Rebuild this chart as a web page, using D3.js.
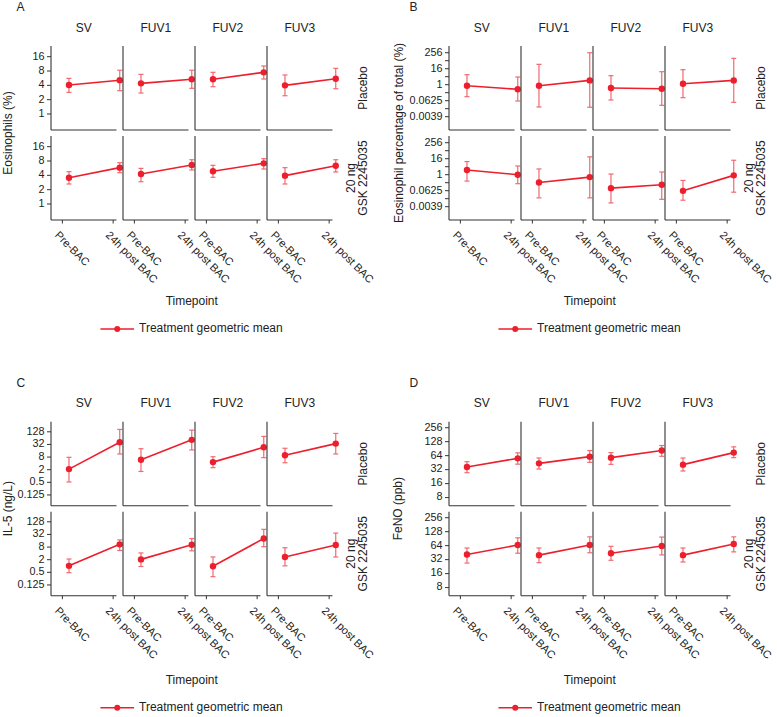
<!DOCTYPE html>
<html><head><meta charset="utf-8">
<script src="https://cdn.jsdelivr.net/npm/d3@7"></script>
<style>
body{margin:0;background:#fff;}
svg text{font-family:"Liberation Sans",Arial,Helvetica,sans-serif;}
</style></head>
<body><svg id="chart" width="777" height="717"></svg>
<script>
// ---------- categories ----------
const visits = ["SV", "FUV1", "FUV2", "FUV3"];
const timepoints = ["Pre-BAC", "24h post BAC"];
const treatments = [["Placebo"], ["20 ng", "GSK 2245035"]];
const legendLabel = "Treatment geometric mean";
const xTitle = "Timepoint";

// ---------- A: Eosinophils (%) ----------  [visit][pre, post]
const eosPlaceboMean = [[4.06, 5.1], [4.4, 5.35], [5.35, 7.5], [4.0, 5.5]];
const eosPlaceboLo   = [[2.85, 3.09], [2.76, 3.46], [3.75, 5.43], [2.42, 3.4]];
const eosPlaceboHi   = [[5.6, 8.3], [6.8, 8.3], [7.5, 10.2], [6.6, 9.1]];
const eosActiveMean  = [[3.57, 5.8], [4.27, 6.6], [4.86, 7.15], [3.94, 6.37]];
const eosActiveLo    = [[2.63, 4.55], [2.94, 5.18], [3.64, 5.43], [2.63, 4.7]];
const eosActiveHi    = [[4.77, 7.37], [5.6, 8.5], [6.5, 8.95], [5.8, 8.5]];
const eosTicks = [1, 2, 4, 8, 16];
const eosTickLabels = ["1", "2", "4", "8", "16"];

// ---------- B: Eosinophil percentage of total (%) ----------
const spPlaceboMean = [[0.84, 0.45], [0.84, 2.1], [0.56, 0.5], [1.19, 2.1]];
const spPlaceboLo   = [[0.125, 0.059], [0.021, 0.02], [0.07, 0.028], [0.105, 0.047]];
const spPlaceboHi   = [[5.66, 3.8], [34, 256], [4.76, 9.5], [13.5, 96]];
const spActiveMean  = [[2.26, 1.0], [0.26, 0.66], [0.097, 0.174], [0.061, 0.89]];
const spActiveLo    = [[0.33, 0.21], [0.018, 0.018], [0.0075, 0.014], [0.012, 0.048]];
const spActiveHi    = [[9.7, 4.5], [2.7, 22], [1.12, 1.6], [0.37, 12.2]];
const spTicks = [0.00390625, 0.0625, 1, 16, 256];
const spTickLabels = ["0.0039", "0.0625", "1", "16", "256"];
const spMinorTicks = [0.015625, 0.25, 4, 64];

// ---------- C: IL-5 (ng/L) ----------
const il5PlaceboMean = [[2.14, 40.8], [6.0, 53], [4.6, 23.4], [9.7, 35]];
const il5PlaceboLo   = [[0.52, 11.2], [1.65, 17.5], [2.5, 7.5], [4.3, 11.2]];
const il5PlaceboHi   = [[7.8, 166], [20, 154], [8.3, 77], [21, 107]];
const il5ActiveMean  = [[1.02, 10.8], [2.07, 10.4], [0.98, 20.4], [2.7, 10.0]];
const il5ActiveLo    = [[0.48, 5.5], [0.95, 5.3], [0.31, 8.3], [1.02, 2.7]];
const il5ActiveHi    = [[2.16, 17.6], [4.2, 20.4], [2.7, 56], [7.4, 37]];
const il5Ticks = [0.125, 0.5, 2, 8, 32, 128];
const il5TickLabels = ["0.125", "0.5", "2", "8", "32", "128"];

// ---------- D: FeNO (ppb) ----------
const fenoPlaceboMean = [[36.5, 56], [43.7, 61], [58, 82.5], [41, 74.5]];
const fenoPlaceboLo   = [[27.5, 42], [33, 46], [41.6, 62], [29.9, 58]];
const fenoPlaceboHi   = [[47.5, 73.5], [57, 82.5], [74.5, 106], [57, 99]];
const fenoActiveMean  = [[41.3, 66], [40, 66], [44, 63], [40, 69.6]];
const fenoActiveLo    = [[27, 44], [27.5, 45], [31, 40.5], [28.5, 47]];
const fenoActiveHi    = [[57, 94.5], [57, 99], [62, 98], [57, 99]];
const fenoTicks = [8, 16, 32, 64, 128, 256];
const fenoTickLabels = ["8", "16", "32", "64", "128", "256"];

// ---------- panels config (layout/styling) ----------
const panels = [
  {letter: "A", title: "Eosinophils (%)", ox: 0, oy: 0, titleX: 8.5, yLog2: [-1.117, 4.745],
   ticks: eosTicks, labels: eosTickLabels, minor: [],
   rows: [[eosPlaceboMean, eosPlaceboLo, eosPlaceboHi], [eosActiveMean, eosActiveLo, eosActiveHi]]},
  {letter: "B", title: "Eosinophil percentage of total (%)", ox: 398, oy: 0, titleX: 400, yLog2: [-11.33, 9.675],
   ticks: spTicks, labels: spTickLabels, minor: spMinorTicks,
   rows: [[spPlaceboMean, spPlaceboLo, spPlaceboHi], [spActiveMean, spActiveLo, spActiveHi]]},
  {letter: "C", title: "IL-5 (ng/L)", ox: 0, oy: 375.7, titleX: 8.5, yLog2: [-4.7, 8.6],
   ticks: il5Ticks, labels: il5TickLabels, minor: [],
   rows: [[il5PlaceboMean, il5PlaceboLo, il5PlaceboHi], [il5ActiveMean, il5ActiveLo, il5ActiveHi]]},
  {letter: "D", title: "FeNO (ppb)", ox: 398, oy: 375.7, titleX: 398.5, yLog2: [2.42, 8.43],
   ticks: fenoTicks, labels: fenoTickLabels, minor: [],
   rows: [[fenoPlaceboMean, fenoPlaceboLo, fenoPlaceboHi], [fenoActiveMean, fenoActiveLo, fenoActiveHi]]}
];

const RED = "#ee1f2d";
const ERR = "#f0505a";
const AXIS = "#333333";
const TXT = "#222222";

const svg = d3.select("#chart");

const PANEL_LEFT = 51, PANEL_W = 65.5, PANEL_STEP = 72;
const ROWS = [[46, 130], [136, 220]];
const DODGE = 0.13;

panels.forEach(p => {
  const g = svg.append("g").attr("transform", `translate(${p.ox},${p.oy})`);
  const below = p.oy > 0 ? 3 : 0;

  // letter
  g.append("text").attr("x", 16.5 + (p.ox > 0 ? -5 : 0)).attr("y", 11).attr("font-size", 12).attr("fill", TXT).text(p.letter);

  const plotCenter = PANEL_LEFT + (3 * PANEL_STEP + PANEL_W) / 2;

  // y title
  svg.append("text")
    .attr("transform", `translate(${p.titleX},${p.oy + (ROWS[0][0] + ROWS[1][1]) / 2}) rotate(-90)`)
    .attr("text-anchor", "middle").attr("dominant-baseline", "middle")
    .attr("font-size", 12).attr("fill", TXT).text(p.title);

  visits.forEach((v, vi) => {
    const left = PANEL_LEFT + vi * PANEL_STEP;
    const x = d3.scaleLinear().domain([0.776, 2.066]).range([left, left + PANEL_W]);

    // strip title
    g.append("text").attr("x", left + PANEL_W / 2).attr("y", 28.5)
      .attr("text-anchor", "middle").attr("dominant-baseline", "middle")
      .attr("font-size", 12).attr("fill", TXT).text(v);

    ROWS.forEach((r, ri) => {
      const y = d3.scaleLog().base(2)
        .domain([Math.pow(2, p.yLog2[0]), Math.pow(2, p.yLog2[1])])
        .range([r[1], r[0]]);

      // left axis
      g.append("line").attr("x1", left).attr("x2", left).attr("y1", r[0]).attr("y2", r[1])
        .attr("stroke", AXIS).attr("stroke-width", 1.1);
      // bottom axis
      g.append("line").attr("x1", left).attr("x2", left + PANEL_W).attr("y1", r[1]).attr("y2", r[1])
        .attr("stroke", AXIS).attr("stroke-width", 1.1);

      if (vi === 0) {
        p.ticks.forEach((t, ti) => {
          g.append("line").attr("x1", left - 4).attr("x2", left).attr("y1", y(t)).attr("y2", y(t))
            .attr("stroke", AXIS).attr("stroke-width", 1);
          g.append("text").attr("x", left - 6.5).attr("y", y(t))
            .attr("text-anchor", "end").attr("dominant-baseline", "middle")
            .attr("font-size", 10.8).attr("fill", TXT).text(p.labels[ti]);
        });
        p.minor.forEach(t => {
          g.append("line").attr("x1", left - 4).attr("x2", left).attr("y1", y(t)).attr("y2", y(t))
            .attr("stroke", AXIS).attr("stroke-width", 1);
        });
      }

      if (ri === 1) {
        timepoints.forEach((tp, ti) => {
          const tx = x(ti + 1);
          g.append("line").attr("x1", tx).attr("x2", tx).attr("y1", r[1]).attr("y2", r[1] + 3.5)
            .attr("stroke", AXIS).attr("stroke-width", 1);
          g.append("text")
            .attr("transform", `translate(${tx - 6},${r[1] + 13.8}) rotate(45)`)
            .attr("dominant-baseline", "middle")
            .attr("font-size", 11).attr("fill", TXT).text(tp);
        });
      }

      // data
      const [mean, lo, hi] = p.rows[ri];
      const pts = timepoints.map((tp, ti) => ({
        x: x(ti + 1 + DODGE), m: mean[vi][ti], lo: lo[vi][ti], hi: hi[vi][ti]
      }));
      g.append("path").datum(pts)
        .attr("d", d3.line().x(d => d.x).y(d => y(d.m)))
        .attr("fill", "none").attr("stroke", RED).attr("stroke-width", 1.6);
      pts.forEach(d => {
        const eg = g.append("g").attr("stroke", ERR).attr("stroke-width", 1.2).attr("opacity", 0.85);
        eg.append("line").attr("x1", d.x).attr("x2", d.x).attr("y1", y(d.lo)).attr("y2", y(d.hi));
        eg.append("line").attr("x1", d.x - 2.5).attr("x2", d.x + 2.5).attr("y1", y(d.lo)).attr("y2", y(d.lo));
        eg.append("line").attr("x1", d.x - 2.5).attr("x2", d.x + 2.5).attr("y1", y(d.hi)).attr("y2", y(d.hi));
        g.append("circle").attr("cx", d.x).attr("cy", y(d.m)).attr("r", 3.2).attr("fill", RED);
      });
    });
  });

  // row strips
  ROWS.forEach((r, ri) => {
    const lines = treatments[ri];
    const cy = (r[0] + r[1]) / 2;
    lines.forEach((ln, li) => {
      const cx = 364 - (lines.length - 1 - li) * 12.5;
      g.append("text").attr("transform", `translate(${cx},${cy}) rotate(-90)`)
        .attr("text-anchor", "middle").attr("dominant-baseline", "middle")
        .attr("font-size", 12).attr("fill", TXT).text(ln);
    });
  });

  // x title
  g.append("text").attr("x", plotCenter).attr("y", 302 + below)
    .attr("text-anchor", "middle").attr("dominant-baseline", "middle")
    .attr("font-size", 12).attr("fill", TXT).text(xTitle);

  // legend
  const ly = 329 + below;
  g.append("line").attr("x1", plotCenter - 91.3).attr("x2", plotCenter - 57.7).attr("y1", ly).attr("y2", ly)
    .attr("stroke", RED).attr("stroke-width", 1.6);
  g.append("circle").attr("cx", plotCenter - 74.5).attr("cy", ly).attr("r", 3).attr("fill", RED);
  g.append("text").attr("x", plotCenter - 52.7).attr("y", ly)
    .attr("dominant-baseline", "middle").attr("font-size", 12).attr("fill", TXT).text(legendLabel);
});
</script>
</body></html>
